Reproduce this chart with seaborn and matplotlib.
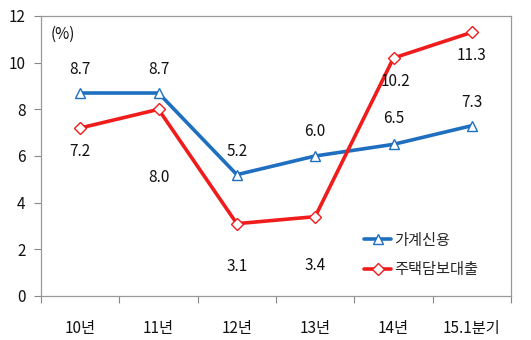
import matplotlib
matplotlib.use("Agg")
import matplotlib.pyplot as plt
from matplotlib.lines import Line2D
import seaborn as sns
import pandas as pd

categories = ["10년", "11년", "12년", "13년", "14년", "15.1분기"]
household_credit = [8.7, 8.7, 5.2, 6.0, 6.5, 7.3]
mortgage_loans = [7.2, 8.0, 3.1, 3.4, 10.2, 11.3]
series_names = ["가계신용", "주택담보대출"]
y_ticks = [0, 2, 4, 6, 8, 10, 12]

sns.set_theme(style="white")
plt.rcParams["font.family"] = ["Noto Sans CJK KR", "DejaVu Sans"]

BLUE = "#1F6FC0"
RED = "#F01C1C"
TEXT = "#111111"
FS = 11

df = pd.DataFrame({
    "idx": list(range(len(categories))) * 2,
    "value": household_credit + mortgage_loans,
    "series": [series_names[0]] * len(categories) + [series_names[1]] * len(categories),
})

fig = plt.figure(figsize=(5.31, 3.40), dpi=100)
ax = fig.add_axes([41 / 531, 44 / 340, 470 / 531, 280 / 340])

sns.lineplot(data=df, x="idx", y="value", hue="series", style="series",
             palette={series_names[0]: BLUE, series_names[1]: RED},
             markers={series_names[0]: "^", series_names[1]: "D"},
             dashes=False, linewidth=2.6, markersize=7.5,
             legend=False, ax=ax)
for ln in ax.get_lines():
    ln.set_markerfacecolor("white")
    ln.set_markeredgecolor(ln.get_color())
    ln.set_markeredgewidth(1.0)
    if ln.get_marker() == "D":
        ln.set_markersize(6.5)

# data labels (offsets in pixels)
blue_off = [(0, 23), (0, 23), (0, 23), (0, 25), (0, 26), (0, 23)]
red_off = [(0, -24), (0, -68), (0, -43), (0, -49), (2, -24), (0, -23)]
for i, (v, o) in enumerate(zip(household_credit, blue_off)):
    ax.annotate(f"{v:.1f}", (i, v), xytext=o, textcoords="offset pixels",
                ha="center", va="center", fontsize=FS, color=TEXT)
for i, (v, o) in enumerate(zip(mortgage_loans, red_off)):
    ax.annotate(f"{v:.1f}", (i, v), xytext=o, textcoords="offset pixels",
                ha="center", va="center", fontsize=FS, color=TEXT)

ax.set_xlim(-0.5, len(categories) - 0.5)
ax.set_ylim(0, 12)
ax.set_yticks(y_ticks)
ax.set_yticklabels([str(t) for t in y_ticks], fontsize=FS, color=TEXT)
ax.set_xticks(range(len(categories)))
ax.set_xticklabels(categories, fontsize=FS, color=TEXT)
ax.set_xticks([i - 0.5 for i in range(len(categories) + 1)], minor=True)
ax.tick_params(axis="x", which="major", length=0, pad=17)
ax.tick_params(axis="x", which="minor", length=5, width=0.8, color="#888888", direction="out", bottom=True)
ax.tick_params(axis="y", length=5, width=0.8, color="#888888", direction="out", left=True, pad=6)
ax.set_xlabel("")
ax.set_ylabel("")
for s in ax.spines.values():
    s.set_color("#999999")
    s.set_linewidth(0.9)

ax.text(0.02, 0.935, "(%)", transform=ax.transAxes, fontsize=FS, color=TEXT,
        ha="left", va="center")

handles = [
    Line2D([], [], color=BLUE, linewidth=2.6, marker="^", markersize=7,
           markerfacecolor="white", markeredgecolor=BLUE),
    Line2D([], [], color=RED, linewidth=2.6, marker="D", markersize=6,
           markerfacecolor="white", markeredgecolor=RED),
]
fig.legend(handles, series_names, loc="upper left", bbox_to_anchor=(350 / 531, 1 - 218 / 340),
           frameon=False, fontsize=FS, handlelength=1.8, handletextpad=0.2, labelspacing=0.8)

fig.savefig("out.png", dpi=100)
